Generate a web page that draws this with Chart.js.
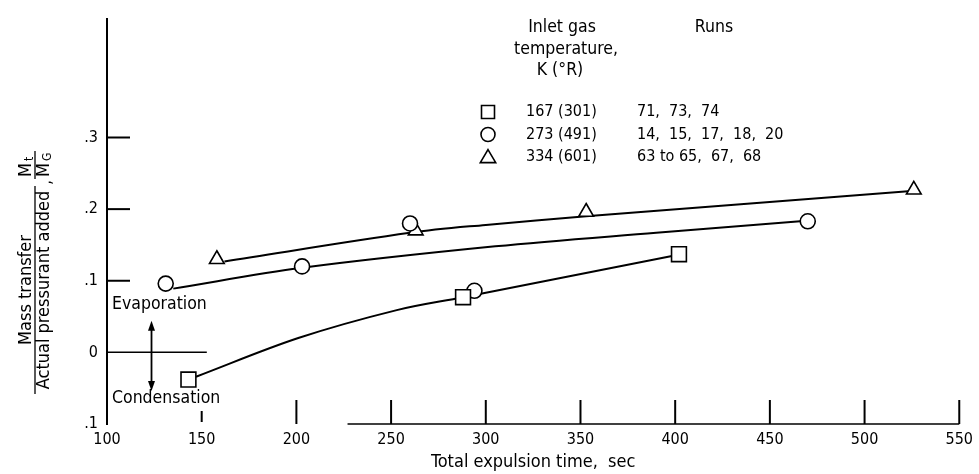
<!DOCTYPE html>
<html>
<head>
<meta charset="utf-8">
<script src="https://cdn.jsdelivr.net/npm/chart.js@4.4.1/dist/chart.umd.min.js"></script>
<style>
    html, body { margin: 0; padding: 0; background: #fff; }
</style>
</head>
<body>
<canvas id="massTransferChart" width="979" height="474"></canvas>
<script>
// Test points: total expulsion time (sec) vs Mt / MG
const squareTimes = [143, 288, 402];
const squareValues = [-0.038, 0.077, 0.137];
const circleTimes = [131, 203, 260, 294, 470];
const circleValues = [0.096, 0.120, 0.180, 0.086, 0.183];
const triangleTimes = [158, 263, 353, 526];
const triangleValues = [0.130, 0.170, 0.196, 0.227];

// Faired curves through each group
const squareCurveTimes = [147, 201, 253, 288, 399];
const squareCurveValues = [-0.034, 0.020, 0.059, 0.077, 0.135];
const circleCurveTimes = [135, 203, 305, 390, 466];
const circleCurveValues = [0.089, 0.118, 0.148, 0.167, 0.183];
const triangleCurveTimes = [162, 260, 300, 353, 523];
const triangleCurveValues = [0.127, 0.167, 0.178, 0.190, 0.225];

// Axes
const xTicks = [100, 150, 200, 250, 300, 350, 400, 450, 500, 550];
const yTicks = [-0.1, 0, 0.1, 0.2, 0.3];

// Legend rows
const legendTemps = ['167 (301)', '273 (491)', '334 (601)'];
const legendRuns = ['71,  73,  74', '14,  15,  17,  18,  20', '63 to 65,  67,  68'];
const legendShapes = ['rect', 'circle', 'triangle'];

const FONT = "'DejaVu Sans Condensed', 'Liberation Sans Narrow', 'DejaVu Sans', sans-serif";

function toPoints(xs, ys) {
    return xs.map((x, i) => ({ x: x, y: ys[i] }));
}

function markerSet(label, xs, ys, shape, radius) {
    return {
        type: 'scatter',
        label: label,
        data: toPoints(xs, ys),
        pointStyle: shape,
        pointRadius: radius,
        pointBackgroundColor: '#fff',
        pointBorderColor: '#000',
        pointBorderWidth: 1.6,
        order: 0
    };
}

function curveSet(label, xs, ys) {
    return {
        type: 'line',
        label: label,
        data: toPoints(xs, ys),
        borderColor: '#000',
        borderWidth: 2,
        pointRadius: 0,
        tension: 0.35,
        fill: false,
        order: 1
    };
}

function drawShape(ctx, shape, x, y, r) {
    ctx.beginPath();
    if (shape === 'rect') {
        ctx.rect(x - r, y - r, 2 * r, 2 * r);
    } else if (shape === 'circle') {
        ctx.arc(x, y, r, 0, Math.PI * 2);
    } else {
        ctx.moveTo(x, y - r * 1.05);
        ctx.lineTo(x + r * 1.1, y + r * 0.8);
        ctx.lineTo(x - r * 1.1, y + r * 0.8);
        ctx.closePath();
    }
    ctx.stroke();
}

function arrowHead(ctx, x, y, dir) {
    ctx.beginPath();
    ctx.moveTo(x, y);
    ctx.lineTo(x - 3.5, y - dir * 10);
    ctx.lineTo(x + 3.5, y - dir * 10);
    ctx.closePath();
    ctx.fill();
}

const annotations = {
    id: 'annotations',
    afterDraw(chart) {
        const ctx = chart.ctx;
        const xs = chart.scales.x;
        const ys = chart.scales.y;
        const area = chart.chartArea;
        ctx.save();
        ctx.strokeStyle = '#000';
        ctx.fillStyle = '#000';

        // inward tick marks on the y axis
        ctx.lineWidth = 2;
        [0.1, 0.2, 0.3].forEach(v => {
            const py = ys.getPixelForValue(v);
            ctx.beginPath();
            ctx.moveTo(area.left, py);
            ctx.lineTo(area.left + 23, py);
            ctx.stroke();
        });

        // zero line
        ctx.lineWidth = 1.5;
        const py0 = ys.getPixelForValue(0);
        ctx.beginPath();
        ctx.moveTo(area.left, py0);
        ctx.lineTo(xs.getPixelForValue(152.7), py0);
        ctx.stroke();

        // x axis baseline (partial) and upward ticks
        const pyb = ys.getPixelForValue(-0.1);
        ctx.lineWidth = 1.5;
        ctx.beginPath();
        ctx.moveTo(xs.getPixelForValue(227), pyb);
        ctx.lineTo(xs.getPixelForValue(550), pyb);
        ctx.stroke();
        ctx.lineWidth = 2;
        xTicks.slice(1).forEach(v => {
            const px = xs.getPixelForValue(v);
            ctx.beginPath();
            if (v === 150) {
                ctx.moveTo(px, pyb - 2);
                ctx.lineTo(px, pyb - 13);
            } else {
                ctx.moveTo(px, pyb);
                ctx.lineTo(px, pyb - 24);
            }
            ctx.stroke();
        });

        // evaporation / condensation arrow
        const ax = xs.getPixelForValue(123.5);
        const aTop = ys.getPixelForValue(0.044);
        const aBot = ys.getPixelForValue(-0.054);
        ctx.lineWidth = 1.8;
        ctx.beginPath();
        ctx.moveTo(ax, aTop + 6);
        ctx.lineTo(ax, aBot - 6);
        ctx.stroke();
        arrowHead(ctx, ax, aTop, -1);
        arrowHead(ctx, ax, aBot, 1);

        ctx.font = '17.5px ' + FONT;
        ctx.textBaseline = 'middle';
        ctx.textAlign = 'left';
        ctx.fillText('Evaporation', area.left + 5, 304);
        ctx.fillText('Condensation', area.left + 5, 398);

        // legend block
        ctx.font = '17.5px ' + FONT;
        ctx.textAlign = 'center';
        ctx.fillText('Inlet gas', 562, 27);
        ctx.fillText('temperature,', 566, 49);
        ctx.fillText('K (\u00B0R)', 560, 70);
        ctx.fillText('Runs', 714, 27);
        ctx.font = '16px ' + FONT;
        ctx.lineWidth = 1.6;
        legendShapes.forEach((shape, i) => {
            const ly = 112 + i * 22.5;
            drawShape(ctx, shape, 488, ly, shape === 'rect' ? 6.5 : 7);
            ctx.textAlign = 'left';
            ctx.fillText(legendTemps[i], 526, ly);
            ctx.fillText(legendRuns[i], 637, ly);
        });

        // y axis title: Mass transfer / Actual pressurant added, Mt / MG
        ctx.save();
        ctx.translate(35, 290);
        ctx.rotate(-Math.PI / 2);
        ctx.font = '18px ' + FONT;
        ctx.textAlign = 'center';
        ctx.fillText('Mass transfer', 0, -9);
        ctx.fillText('Actual pressurant added', 0, 9);
        ctx.lineWidth = 1.3;
        ctx.beginPath();
        ctx.moveTo(-104, 0);
        ctx.lineTo(104, 0);
        ctx.stroke();
        ctx.textAlign = 'left';
        ctx.fillText(',', 105, 11);
        ctx.fillText('M', 113, -9);
        ctx.fillText('M', 113, 9);
        ctx.font = '12px ' + FONT;
        ctx.fillText('t', 129, -5);
        ctx.fillText('G', 129, 13);
        ctx.beginPath();
        ctx.moveTo(111, 0);
        ctx.lineTo(139, 0);
        ctx.stroke();
        ctx.restore();

        ctx.restore();
    }
};

const ctx = document.getElementById('massTransferChart').getContext('2d');
new Chart(ctx, {
    type: 'scatter',
    data: {
        datasets: [
            markerSet('167 (301)', squareTimes, squareValues, 'rect', 10.5),
            markerSet('273 (491)', circleTimes, circleValues, 'circle', 7.5),
            markerSet('334 (601)', triangleTimes, triangleValues, 'triangle', 8.5),
            curveSet('fair 167', squareCurveTimes, squareCurveValues),
            curveSet('fair 273', circleCurveTimes, circleCurveValues),
            curveSet('fair 334', triangleCurveTimes, triangleCurveValues)
        ]
    },
    options: {
        responsive: false,
        animation: false,
        devicePixelRatio: 1,
        layout: { padding: { top: 8, right: 14, left: 0, bottom: 0 } },
        plugins: {
            legend: { display: false },
            tooltip: { enabled: false }
        },
        scales: {
            x: {
                type: 'linear',
                min: 100,
                max: 550,
                afterBuildTicks: scale => { scale.ticks = xTicks.map(v => ({ value: v })); },
                afterFit: scale => { scale.height = 50; },
                ticks: { color: '#000', font: { size: 16, family: FONT }, padding: 6, maxRotation: 0 },
                grid: { display: false, drawTicks: false },
                border: { display: false },
                title: {
                    display: true,
                    text: 'Total expulsion time,  sec',
                    color: '#000',
                    font: { size: 18, family: FONT },
                    padding: { top: 0, bottom: 1 }
                }
            },
            y: {
                min: -0.1,
                max: 0.466,
                afterBuildTicks: scale => { scale.ticks = yTicks.map(v => ({ value: v })); },
                afterFit: scale => { scale.width = 107; },
                ticks: {
                    color: '#000',
                    font: { size: 16, family: FONT },
                    padding: 9,
                    callback: v => v === 0 ? '0' : '.' + Math.round(Math.abs(v) * 10)
                },
                grid: { display: false, drawTicks: false },
                border: { display: true, color: '#000', width: 2 }
            }
        }
    },
    plugins: [annotations]
});
</script>
</body>
</html>
